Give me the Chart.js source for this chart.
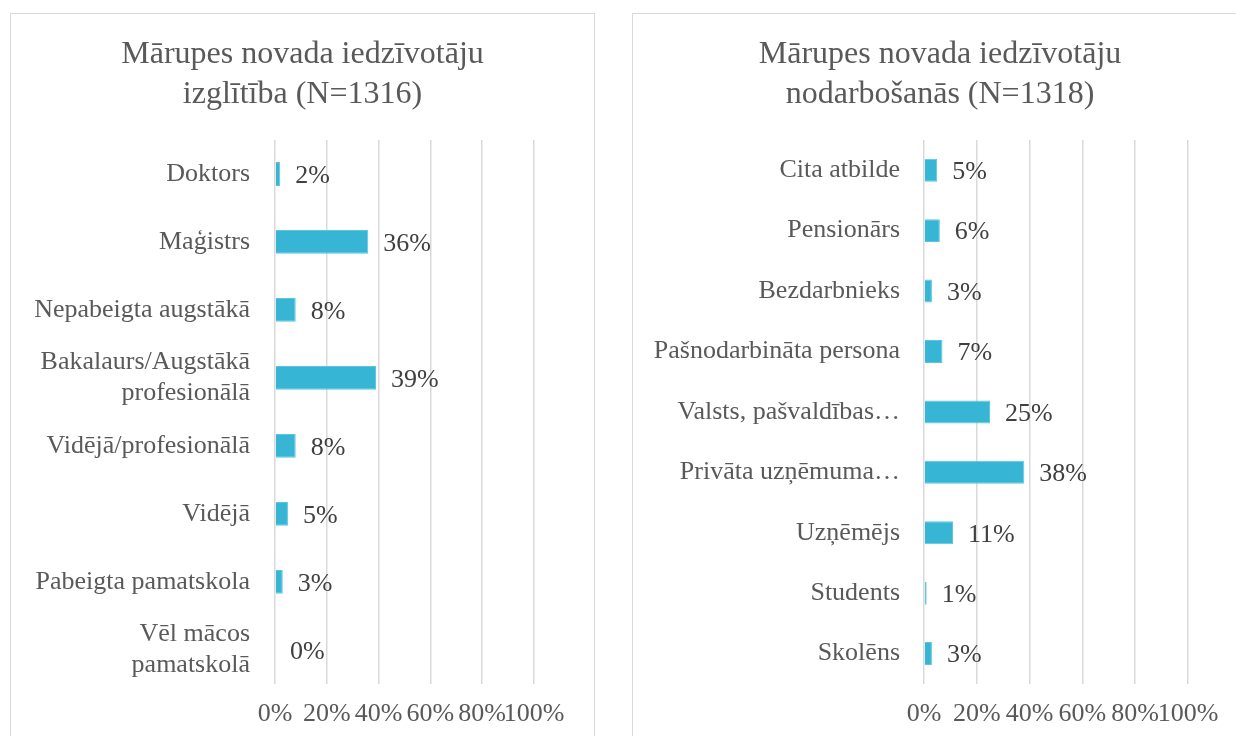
<!DOCTYPE html>
<html>
<head>
<meta charset="utf-8">
<script src="https://cdn.jsdelivr.net/npm/chart.js@4.4.1/dist/chart.umd.min.js"></script>
<style>
  html, body { margin: 0; padding: 0; background: #ffffff; width: 1236px; height: 736px; overflow: hidden; }
  .panel { position: absolute; top: 13px; border: 1px solid #d9d9d9; background: #fff; }
  #p1 { left: 10px; width: 583px; height: 760px; }
  #p2 { left: 632px; width: 614px; height: 760px; }
  canvas { display: block; }
</style>
</head>
<body>
<div class="panel" id="p1"><canvas id="c1" width="583" height="741"></canvas></div>
<div class="panel" id="p2"><canvas id="c2" width="614" height="741"></canvas></div>
<script>
// ---- Data ----
const eduTitle = ['Mārupes novada iedzīvotāju', 'izglītība (N=1316)'];
const eduCategories = [
  'Doktors',
  'Maģistrs',
  'Nepabeigta augstākā',
  ['Bakalaurs/Augstākā', 'profesionālā'],
  'Vidējā/profesionālā',
  'Vidējā',
  'Pabeigta pamatskola',
  ['Vēl mācos', 'pamatskolā']
];
const eduValues = [2, 36, 8, 39, 8, 5, 3, 0];

const occTitle = ['Mārupes novada iedzīvotāju', 'nodarbošanās (N=1318)'];
const occCategories = [
  'Cita atbilde',
  'Pensionārs',
  'Bezdarbnieks',
  'Pašnodarbināta persona',
  'Valsts, pašvaldības…',
  'Privāta uzņēmuma…',
  'Uzņēmējs',
  'Students',
  'Skolēns'
];
const occValues = [5, 6, 3, 7, 25, 38, 11, 1, 3];

const xTickValues = [0, 20, 40, 60, 80, 100];

// ---- Style ----
const FONT = "'Liberation Serif', 'Times New Roman', serif";
const TEXT = '#595959';
const BAR = '#36b6d4';
const GRID = '#d9d9d9';

const valueLabels = {
  id: 'valueLabels',
  afterDatasetsDraw(chart) {
    const ctx = chart.ctx;
    const ds = chart.data.datasets[0];
    const meta = chart.getDatasetMeta(0);
    ctx.save();
    ctx.font = '26px ' + FONT;
    ctx.fillStyle = '#404040';
    ctx.textAlign = 'left';
    ctx.textBaseline = 'middle';
    meta.data.forEach((bar, i) => {
      ctx.fillText(ds.data[i] + '%', bar.x + 15, bar.y + 2);
    });
    ctx.restore();
  }
};

// Title centred on the whole panel
const panelTitle = {
  id: 'panelTitle',
  afterDraw(chart, args, opts) {
    const ctx = chart.ctx;
    ctx.save();
    ctx.font = '32px ' + FONT;
    ctx.fillStyle = TEXT;
    ctx.textAlign = 'center';
    ctx.textBaseline = 'middle';
    opts.lines.forEach((line, i) => {
      ctx.fillText(line, chart.width / 2, 41 + i * 40);
    });
    ctx.restore();
  }
};

function makeChart(id, title, cats, vals, rightPad, yWidth, yPad, barPct) {
  return new Chart(document.getElementById(id), {
    type: 'bar',
    data: {
      labels: cats,
      datasets: [{
        data: vals,
        backgroundColor: BAR,
        borderColor: '#5cc6df',
        borderWidth: 1,
        barPercentage: barPct,
        categoryPercentage: 1.0
      }]
    },
    options: {
      indexAxis: 'y',
      responsive: false,
      animation: false,
      layout: { padding: { left: 0, right: rightPad, top: 126, bottom: 10 } },
      plugins: {
        legend: { display: false },
        tooltip: { enabled: false },
        title: { display: false },
        panelTitle: { lines: title }
      },
      scales: {
        x: {
          min: 0, max: 100,
          afterBuildTicks(scale) { scale.ticks = xTickValues.map(v => ({ value: v })); },
          grid: { color: GRID, lineWidth: 1.5, drawTicks: false },
          border: { display: false },
          ticks: {
            autoSkip: false, maxRotation: 0, padding: 15,
            color: TEXT,
            font: { family: FONT, size: 26 },
            callback: v => v + '%'
          }
        },
        y: {
          afterFit(scale) { scale.width = yWidth; },
          grid: { display: false, drawTicks: false },
          border: { display: false },
          ticks: {
            autoSkip: false, padding: yPad,
            color: TEXT,
            font: { family: FONT, size: 26, lineHeight: 1.2 }
          }
        }
      }
    },
    plugins: [valueLabels, panelTitle]
  });
}

makeChart('c1', eduTitle, eduCategories, eduValues, 60, 264, 25, 0.35);
makeChart('c2', occTitle, occCategories, occValues, 59, 291, 24, 0.38);
</script>
</body>
</html>
